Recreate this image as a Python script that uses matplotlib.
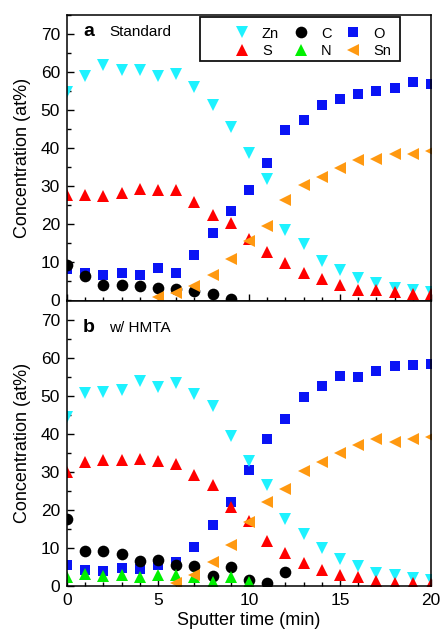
import matplotlib
matplotlib.use("Agg")
import matplotlib.pyplot as plt
from matplotlib.ticker import MultipleLocator
from matplotlib.lines import Line2D
from matplotlib.patches import Rectangle

plt.rcParams['font.family'] = ['Liberation Sans', 'DejaVu Sans']

time = list(range(21))

# Panel a: Standard
zn_a = [54.9, 58.9, 61.9, 60.6, 60.6, 58.9, 59.4, 56.1, 51.3, 45.5, 38.8, 32.0,
        18.6, 14.9, 10.5, 8.0, 6.0, 4.6, 3.4, 2.8, 2.2]
s_a = [27.6, 27.6, 27.5, 28.2, 29.2, 28.9, 28.9, 25.8, 22.4, 20.4, 16.2, 12.7,
       9.9, 7.2, 5.7, 4.0, 2.7, 2.8, 2.2, 1.6, 1.6]
o_a = [8.2, 7.2, 6.6, 7.2, 6.6, 8.5, 7.3, 12.0, 17.7, 23.5, 29.1, 36.0,
       44.9, 47.3, 51.3, 52.9, 54.2, 55.1, 55.7, 57.3, 56.8]
c_t_a = list(range(10))
c_a = [9.2, 6.4, 4.2, 4.2, 3.7, 3.3, 2.9, 2.5, 1.8, 0.5]
sn_t_a = list(range(5, 21))
sn_a = [1.0, 1.9, 3.8, 6.8, 10.9, 15.5, 19.7, 26.4, 30.4, 32.4, 34.8, 36.8,
        37.3, 38.6, 38.6, 39.3]

# Panel b: w/ HMTA
zn_b = [44.5, 50.7, 51.0, 51.6, 53.8, 52.3, 53.2, 50.4, 47.2, 39.3, 32.9, 26.6,
        17.7, 13.7, 9.9, 7.0, 5.3, 3.3, 2.9, 2.0, 1.6]
s_b = [30.0, 32.6, 33.1, 33.1, 33.3, 32.9, 32.0, 29.1, 26.6, 20.8, 17.2, 11.9,
       8.7, 6.0, 4.2, 2.9, 2.4, 1.4, 0.9, 0.8, 0.5]
o_b = [5.5, 4.2, 3.9, 4.7, 4.4, 5.5, 6.4, 10.3, 16.0, 22.0, 30.4, 38.5,
       43.8, 49.7, 52.6, 55.2, 54.8, 56.6, 57.8, 58.0, 58.2]
c_t_b = list(range(13))
c_b = [17.5, 9.2, 9.2, 8.3, 6.6, 6.7, 5.5, 5.3, 2.6, 4.9, 1.7, 0.9, 3.8]
n_t_b = list(range(11))
n_b = [2.4, 3.2, 2.6, 2.9, 2.3, 2.9, 2.9, 2.3, 1.1, 2.3, 1.1]
sn_t_b = list(range(6, 21))
sn_b = [0.9, 2.9, 6.4, 10.7, 16.9, 22.1, 25.5, 30.2, 32.6, 34.9, 37.0,
        38.5, 37.8, 38.7, 39.2]

col = {'Zn': '#1EF2FF', 'S': '#FF0000', 'O': '#0A14F5', 'C': '#000000',
       'N': '#00F000', 'Sn': '#FF9911'}
mk = {'Zn': 'v', 'S': '^', 'O': 's', 'C': 'o', 'N': '^', 'Sn': '<'}
ms = {'Zn': 9.0, 'S': 9.0, 'O': 7.3, 'C': 8.4, 'N': 9.0, 'Sn': 9.0}

W, H = 440, 636
fig = plt.figure(figsize=(W / 100, H / 100), dpi=100)
ax_a = fig.add_axes([67 / W, (H - 300.5) / H, 364 / W, 285.5 / H])
ax_b = fig.add_axes([67 / W, (H - 586) / H, 364 / W, 285.5 / H])


def draw(ax, series):
    for name, (t, v) in series:
        ax.plot(t, v, linestyle='none', marker=mk[name], ms=ms[name],
                color=col[name], markeredgewidth=0)


draw(ax_a, [('O', (time, o_a)), ('C', (c_t_a, c_a)), ('Zn', (time, zn_a)),
            ('S', (time, s_a)), ('Sn', (sn_t_a, sn_a))])
draw(ax_b, [('O', (time, o_b)), ('C', (c_t_b, c_b)), ('Zn', (time, zn_b)),
            ('S', (time, s_b)), ('N', (n_t_b, n_b)), ('Sn', (sn_t_b, sn_b))])

for ax in (ax_a, ax_b):
    ax.set_xlim(0, 20)
    ax.set_ylim(0, 75)
    ax.xaxis.set_major_locator(MultipleLocator(5))
    ax.xaxis.set_minor_locator(MultipleLocator(1))
    ax.yaxis.set_major_locator(MultipleLocator(10))
    ax.yaxis.set_minor_locator(MultipleLocator(5))
    ax.tick_params(which='both', direction='in', top=False, right=False,
                   labelsize=12.5, width=1, pad=5)
    ax.tick_params(which='major', length=5)
    ax.tick_params(which='minor', length=3)
    for sp in ax.spines.values():
        sp.set_linewidth(1.1)
    ax.set_ylabel('Concentration (at%)', fontsize=13, labelpad=7)

ax_a.tick_params(labelbottom=False)
ax_b.set_xlabel('Sputter time (min)', fontsize=13, labelpad=3)

ax_a.text(0.044, 1 - 21 / 285.5, 'a', transform=ax_a.transAxes, fontsize=14,
          fontweight='bold', va='baseline')
ax_a.text(0.115, 1 - 21 / 285.5, 'Standard', transform=ax_a.transAxes,
          fontsize=11, va='baseline')
ax_b.text(0.044, 1 - 31 / 285.5, 'b', transform=ax_b.transAxes, fontsize=14,
          fontweight='bold', va='baseline')
ax_b.text(0.115, 1 - 31 / 285.5, 'w/ HMTA', transform=ax_b.transAxes,
          fontsize=11, va='baseline')

order = ['Zn', 'S', 'C', 'N', 'O', 'Sn']
handles = [Line2D([], [], linestyle='none', marker=mk[n], ms=ms[n],
                  color=col[n], markeredgewidth=0) for n in order]
leg = ax_a.legend(handles, order, ncol=3, loc='upper left',
                  bbox_to_anchor=((234.7 - 67) / 364, 1 - (26.5 - 15) / 285.5),
                  fontsize=10.5, frameon=False, borderpad=0,
                  handletextpad=0.87, columnspacing=1.0, labelspacing=0.25,
                  handlelength=1.0, borderaxespad=0)

# legend frame
fig.add_artist(Rectangle((200 / W, (H - 61) / H), 200 / W, 44 / H,
                         transform=fig.transFigure, fill=False,
                         edgecolor='#111111', linewidth=1.3, zorder=5))

fig.savefig('out.png', dpi=100)
